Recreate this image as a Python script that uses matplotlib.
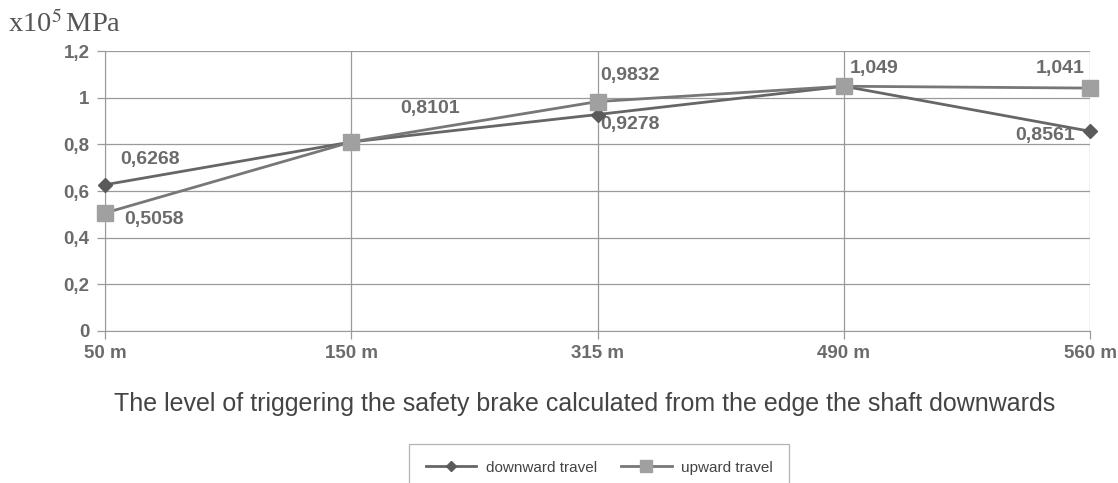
import matplotlib
matplotlib.use("Agg")
import matplotlib.pyplot as plt

# Data
depths = ["50 m", "150 m", "315 m", "490 m", "560 m"]
downward = [0.6268, 0.8101, 0.9278, 1.049, 0.8561]
upward = [0.5058, 0.8101, 0.9832, 1.049, 1.041]
yticks = [0, 0.2, 0.4, 0.6, 0.8, 1.0, 1.2]
ytick_labels = ["0", "0,2", "0,4", "0,6", "0,8", "1", "1,2"]

plt.rcParams["font.family"] = ["Liberation Sans", "DejaVu Sans"]
plt.rcParams["mathtext.fontset"] = "stix"

TXT = "#6b6b6b"
GRID = "#9a9a9a"

fig = plt.figure(figsize=(11.18, 4.83), dpi=100)
ax = fig.add_axes([0.0939, 0.3147, 0.975 - 0.0939, 0.8944 - 0.3147])

x = list(range(len(depths)))
ax.plot(x, downward, color="#666666", lw=2, marker="D", ms=7,
        mfc="#5a5a5a", mec="#5a5a5a", label="downward travel", zorder=4,
        clip_on=False)
ax.plot(x, upward, color="#777777", lw=2, marker="s", ms=12,
        mfc="#a0a0a0", mec="#a0a0a0", label="upward travel", zorder=5,
        clip_on=False)

ax.set_xlim(0, len(depths) - 1)
ax.set_ylim(0, 1.2)
ax.set_xticks(x)
ax.set_xticklabels(depths)
ax.set_yticks(yticks)
ax.set_yticklabels(ytick_labels)
ax.grid(True, color=GRID, lw=0.9)
ax.set_axisbelow(True)
for side in ["top", "right"]:
    ax.spines[side].set_visible(False)
for side in ["left", "bottom"]:
    ax.spines[side].set_color(GRID)
ax.tick_params(axis="both", colors=GRID, labelcolor=TXT, length=6, width=0.9)
ax.tick_params(axis="x", pad=4)
ax.tick_params(axis="y", pad=5)
for lab in ax.get_xticklabels() + ax.get_yticklabels():
    lab.set_fontsize(13.5)
    lab.set_fontweight("bold")

# Data labels: (dx, dy in points, alignment)
def fmt(v):
    return f"{v:g}".replace(".", ",")

lab_kw = dict(fontsize=14, fontweight="bold", color=TXT)
offsets_down = [(11, 18, "left"), None, (2, -7, "left"), None, (-11, -3, "right")]
offsets_up = [(14, -5, "left"), (35, 24, "left"), (2, 19, "left"), (4, 13, "left"), (-4, 14, "right")]
for i, v in enumerate(downward):
    if offsets_down[i] is None:
        continue
    dx, dy, ha = offsets_down[i]
    ax.annotate(fmt(v), (i, v), xytext=(dx, dy), textcoords="offset points",
                ha=ha, va="center", **lab_kw)
for i, v in enumerate(upward):
    dx, dy, ha = offsets_up[i]
    ax.annotate(fmt(v), (i, v), xytext=(dx, dy), textcoords="offset points",
                ha=ha, va="center", **lab_kw)

fig.text(0.007, 1 - 24 / 483, r"x10$^5\,$MPa", family="Liberation Serif",
         fontsize=20.5, color="#555555", va="center", ha="left")

fig.text(0.523, 1 - 404 / 483,
         "The level of triggering the safety brake calculated from the edge the shaft downwards",
         fontsize=18, color="#444444", ha="center", va="center")

leg = fig.legend(loc="upper center", bbox_to_anchor=(0.536, 1 - 444 / 483), ncol=2,
                 frameon=True, fancybox=False, fontsize=11, handlelength=3.3,
                 borderpad=1.1, columnspacing=1.6, handletextpad=0.6,
                 borderaxespad=0, markerscale=0.75)
leg._legend_box.align = "center"
leg.get_frame().set_edgecolor("#a0a0a0")
leg.get_frame().set_linewidth(0.9)
for t in leg.get_texts():
    t.set_color("#444444")

fig.savefig("out.png", dpi=100)
